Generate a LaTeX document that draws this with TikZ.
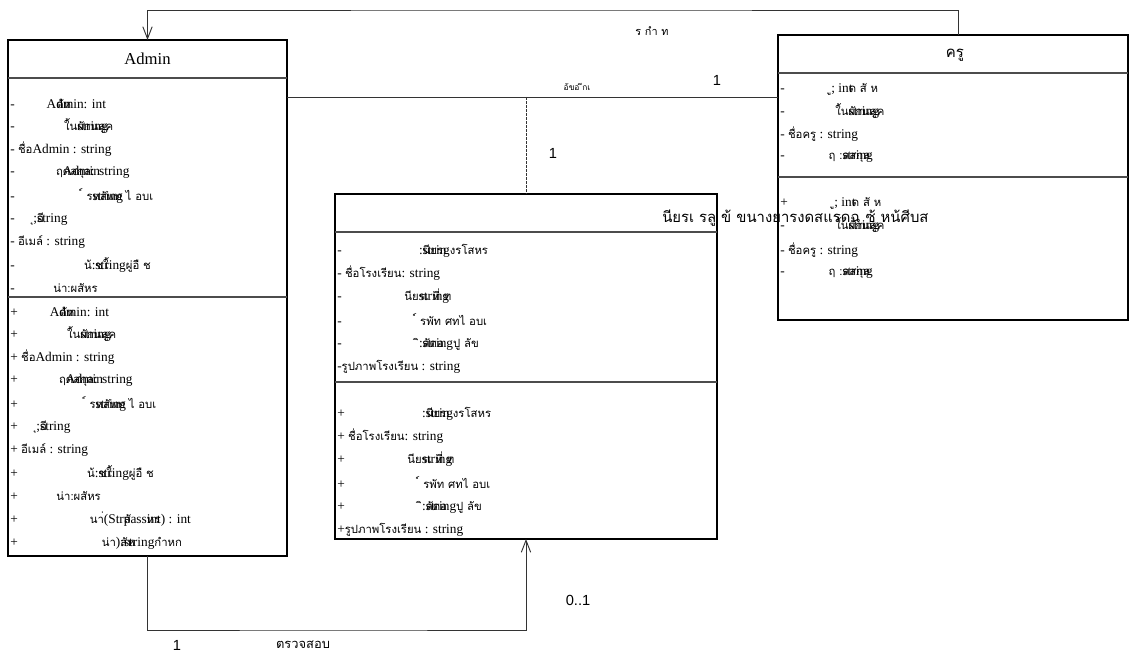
\documentclass[tikz,border=0pt]{standalone}
\usepackage{fontspec}
\setmainfont{Liberation Serif}
\setsansfont{Liberation Sans}
\newfontfamily\thaifont[Script=Thai,Scale=0.85]{Loma}
\usetikzlibrary{arrows.meta}
\newcommand{\tx}[1]{{\thaifont #1}}
\newcommand{\gap}[1]{\hspace*{#1pt}}

\tikzset{
  classbox/.style={draw, line width=0.8pt, inner sep=0pt, outer sep=0pt},
  sepline/.style={draw=black!70, line width=1.1pt},
  row/.style={anchor=west, inner sep=0pt, font=\fontsize{10}{12}\selectfont},
  ctitle/.style={font=\fontsize{12.5}{14}\selectfont},
  mult/.style={font=\sffamily\fontsize{11}{12}\selectfont},
  rolename/.style={font=\thaifont\fontsize{9.6}{10}\selectfont},
  assocline/.style={draw=black!80, line width=0.7pt},
  openarrow/.style={-{Straight Barb[length=9pt,width=7pt]}}
}

\begin{document}
\begin{tikzpicture}[x=0.75pt,y=-0.75pt]
  \useasboundingbox (0,0) rectangle (1129,656);

  % class boxes
  \node[classbox, minimum width=209.25pt, minimum height=387pt] (admin) at (147.5,298) {};
  \node[classbox, minimum width=262.5pt, minimum height=213.75pt] (kru) at (953,177.5) {};
  \node[classbox, minimum width=286.5pt, minimum height=258.75pt] (school) at (526,366.5) {};

  \draw[sepline] (8,78) -- (287,78);
  \draw[sepline] (8,297) -- (287,297);
  \draw[sepline] (778,73) -- (1128,73);
  \draw[sepline] (778,177) -- (1128,177);
  \draw[sepline] (335,232) -- (717,232);
  \draw[sepline] (335,382) -- (717,382);

  \node[ctitle] (admintitle) at (147.5,59) {Admin};
  \node[ctitle, font=\thaifont\fontsize{13.2}{14}\selectfont] (krutitle) at (955,55) {ครู};
  \node[row, font=\thaifont\fontsize{13.1}{14}\selectfont] (schooltitle) at (662,218) {นียรเ รลู ข้ ขนางยารงดสแรดฉ ซ้ หน้ศีบส};

  % Admin
  \foreach \s/\dy/\k in {-/0/a, +/208/m}
    \foreach \y/\t [count=\i] in {
      104/{\gap{24}A\rlap{\tx{ดัห}}dmin: int},
      126/{\gap{37}\tx{ใ้น}\rlap{string}\tx{ผักนลูค}},
      149/{ \tx{ชื่อ}Admin : string},
      172/{\gap{31}\tx{ฤ}\rlap{Admin}\tx{ดสกุล}: string},
      196/{\gap{51}\tx{์ ร}\rlap{string}\tx{หสัพท ไ อบเ}},
      219/{\gap{14}\tx{ุ};\rlap{\tx{อี}}string},
      242/{ \tx{อีเมล์} : string},
      265/{\gap{52}\tx{น้}:\rlap{\tx{ชใ้}}string\tx{ผู่อื ช}},
      288/{\gap{29}\tx{น่า:ผสัหร}}}
      \node[row] (adm\k\i) at (10,\y+\dy) {\s\t};
  \node[row] (admm10) at (10,519) {+\gap{54}\tx{นา่}(Str\rlap{\tx{สั}}pass\rlap{\tx{หร}}int) : int};
  \node[row] (admm11) at (10,543) {+\gap{63}\tx{น่า})\rlap{\tx{สัห}}:string\tx{กำหก}};

  % school
  \foreach \s/\dy/\k in {-/0/a, +/163/m}
    \foreach \y/\t [count=\i] in {
      251/{\gap{58}:\rlap{strin}\tx{นียร}g\tx{งรโสหร}},
      273/{ \tx{ชื่อโรงเรียน}: string},
      296/{\gap{47}\tx{นีย}\rlap{string}\tx{รเ ที่ ท}},
      320/{\gap{56}\tx{์ รพัท ศทไ อบเ}},
      344/{\gap{58}\tx{ิ}:\rlap{\tx{ลัดอ}}string\tx{ปู ลัข}},
      367/{\tx{รูปภาพโรงเรียน} : string}}
      \node[row] (sch\k\i) at (337,\y+\dy) {\s\t};

  % kru
  \foreach \y/\t [count=\i] in {
    89/{-\gap{35}\tx{ู}; in\rlap{t}\tx{ด สั ห}},
    111/{-\gap{38}\tx{ใ้น}\rlap{string}\tx{ผักนลูค}},
    134/{- \tx{ชื่อครู} : string},
    157/{-\gap{33}\tx{ฤ :}\rlap{string}\tx{ลสกุล}},
    203/{+\gap{35}\tx{ู}; in\rlap{t}\tx{ด สั ห}},
    225/{-\gap{38}\tx{ใ้น}\rlap{string}\tx{ผักนลูค}},
    250/{- \tx{ชื่อครู} : string},
    273/{-\gap{33}\tx{ฤ :}\rlap{string}\tx{ลสกุล}}}
    \node[row] (kru\i) at (780,\y) {\t};

  % associations
  \coordinate (assocy) at (0,97);
  \coordinate (assoc) at (school.north |- assocy);
  \coordinate (topbend) at (550,10);
  \coordinate (botbend) at (330,630);
  \draw[assocline] (admin.east |- assoc) -- (kru.west |- assoc);
  \draw[assocline, dash pattern=on 2pt off 1pt] (assoc) -- (school.north);
  \draw[assocline, openarrow] ([xshift=3.75pt]kru.north) |- (topbend) -| (admin.north);
  \draw[assocline, openarrow] (admin.south) |- (botbend) -| (school.south);

  \node[rolename] (lbltop) at (652,31) {ร กำ ท};
  \node[font=\thaifont\fontsize{7.4}{8}\selectfont] (lblassoc) at (577,87) {อ้ขอ่ ีกเ};
  \node[mult] (multkru) at (717,80) {1};
  \node[mult] (multsch) at (553,153) {1};
  \node[mult] (multcheck) at (578,600) {0..1};
  \node[mult] (multadm) at (177,645) {1};
  \node[rolename, font=\thaifont\fontsize{11.4}{12}\selectfont] (lblcheck) at (303,645) {ตรวจสอบ};
\end{tikzpicture}
\end{document}
